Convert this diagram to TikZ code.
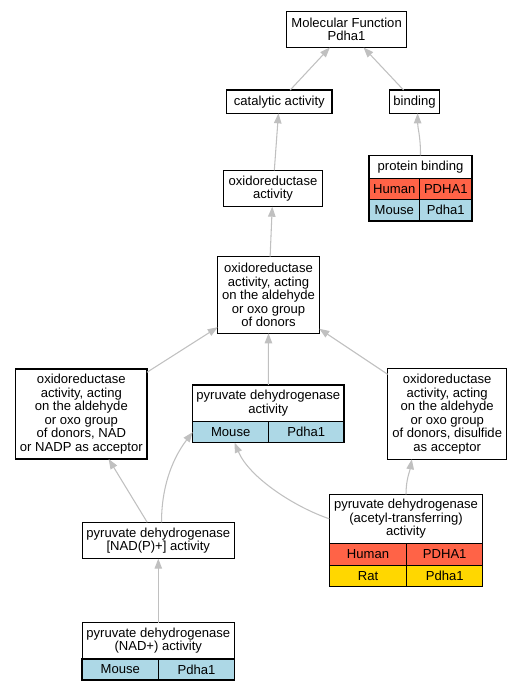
\documentclass[tikz,border=0pt]{standalone}
\usepackage{fontspec}
\setmainfont{Liberation Sans}
\usetikzlibrary{arrows.meta}
\definecolor{hucol}{HTML}{FF6347}
\definecolor{mocol}{HTML}{ADD8E6}
\definecolor{racol}{HTML}{FFD700}
\definecolor{edcol}{HTML}{C0C0C0}
\tikzset{tm/.append style={draw,rectangle,inner sep=0pt,outer sep=0pt,line width=0.9pt,align=center,font={\fontsize{9.8}{10.15}\selectfont}}}
\tikzset{sz/.style 2 args={minimum width=#1*0.75pt,minimum height=#2*0.75pt}}
\tikzset{hu/.append style={fill=hucol}}
\tikzset{mo/.append style={fill=mocol}}
\tikzset{ra/.append style={fill=racol}}
\tikzset{ar/.append style={draw=edcol,line width=0.8pt,-{Triangle[length=7.5pt,width=5.6pt]}}}

\begin{document}
\begin{tikzpicture}[x=0.75pt,y=-0.75pt]
                \useasboundingbox (0,0) rectangle (531,691);
                % terms
                \node[tm,sz={120}{36}] (mf) at (346.6,29.5) {Molecular Function\\Pdha1};
                \node[tm,sz={105.3}{23.3}] (cat) at (279.3,101.7) {catalytic activity};
                \node[tm,sz={50.4}{23.3}] (bind) at (414.5,101.7) {binding};
                \node[tm,sz={103}{23.4}] (pb) at (420.5,167) {protein binding};
                \node[tm,hu,sz={50.7}{20.6}] (pbh) at (394.3,189) {Human};
                \node[tm,hu,sz={52.3}{20.6}] (pbhg) at (445.8,189) {PDHA1};
                \node[tm,mo,sz={50.7}{21.7}] (pbm) at (394.3,210.2) {Mouse};
                \node[tm,mo,sz={52.3}{21.7}] (pbmg) at (445.8,210.2) {Pdha1};
                \node[tm,sz={99.4}{36.4}] (oxa) at (273,188.5) {oxidoreductase\\activity};
                \node[tm,sz={101.6}{76.6}] (oxg) at (268.5,295) {oxidoreductase\\activity, acting\\on the aldehyde\\or oxo group\\of donors};
                \node[tm,sz={131.3}{90}] (oxn) at (81.3,414) {oxidoreductase\\activity, acting\\on the aldehyde\\or oxo group\\of donors, NAD\\or NADP as acceptor};
                \node[tm,sz={151.3}{36.7}] (pdh) at (268.3,403.3) {pyruvate dehydrogenase\\activity};
                \node[tm,mo,sz={76}{21}] (pdhm) at (230.7,432.2) {Mouse};
                \node[tm,mo,sz={75.3}{21}] (pdhg) at (306.3,432.2) {Pdha1};
                \node[tm,sz={119}{90.6}] (oxd) at (447.2,414) {oxidoreductase\\activity, acting\\on the aldehyde\\or oxo group\\of donors, disulfide\\as acceptor};
                \node[tm,sz={152}{36.4}] (npp) at (158.3,540.5) {pyruvate dehydrogenase\\{[NAD(P)+]} activity};
                \node[tm,sz={152}{36.3}] (nad) at (158.3,640.8) {pyruvate dehydrogenase\\(NAD+) activity};
                \node[tm,mo,sz={76.7}{21}] (nadm) at (120.3,669.5) {Mouse};
                \node[tm,mo,sz={75.6}{21}] (nadg) at (196.5,669.5) {Pdha1};
                \node[tm,sz={153.4}{49}] (ace) at (406,518.8) {pyruvate dehydrogenase\\(acetyl-transferring)\\activity};
                \node[tm,hu,sz={77.4}{22}] (aceh) at (368,554.3) {Human};
                \node[tm,hu,sz={76}{22}] (acehg) at (444.7,554.3) {PDHA1};
                \node[tm,ra,sz={77.4}{21.4}] (acer) at (368,576) {Rat};
                \node[tm,ra,sz={76}{21.4}] (acerg) at (444.7,576) {Pdha1};
                % is_a links
                \path (cat) edge[ar] (mf);
                \path (bind) edge[ar] (mf);
                \path (oxa) edge[ar] (cat);
                \draw[ar] (pb.north) .. controls +(0,-20) and +(0,15) .. (bind.-75);
                \path (oxg) edge[ar] (oxa);
                \path (oxn) edge[ar] (oxg);
                \path (pdh.north) edge[ar] (oxg.south);
                \path (oxd) edge[ar] (oxg);
                \path (npp) edge[ar] (oxn);
                \draw[ar] (npp.80) .. controls +(0,-45) and +(-14,18) .. (pdhm.west);
                \draw[ar] (ace.west) .. controls +(-35,-12) and +(15,35) .. (pdhm.-70);
                \draw[ar] (ace.north) .. controls +(0,-15) and +(-2,12) .. (oxd.-128);
                \path (nad.north) edge[ar] (npp.south);
            \end{tikzpicture}
\end{document}
